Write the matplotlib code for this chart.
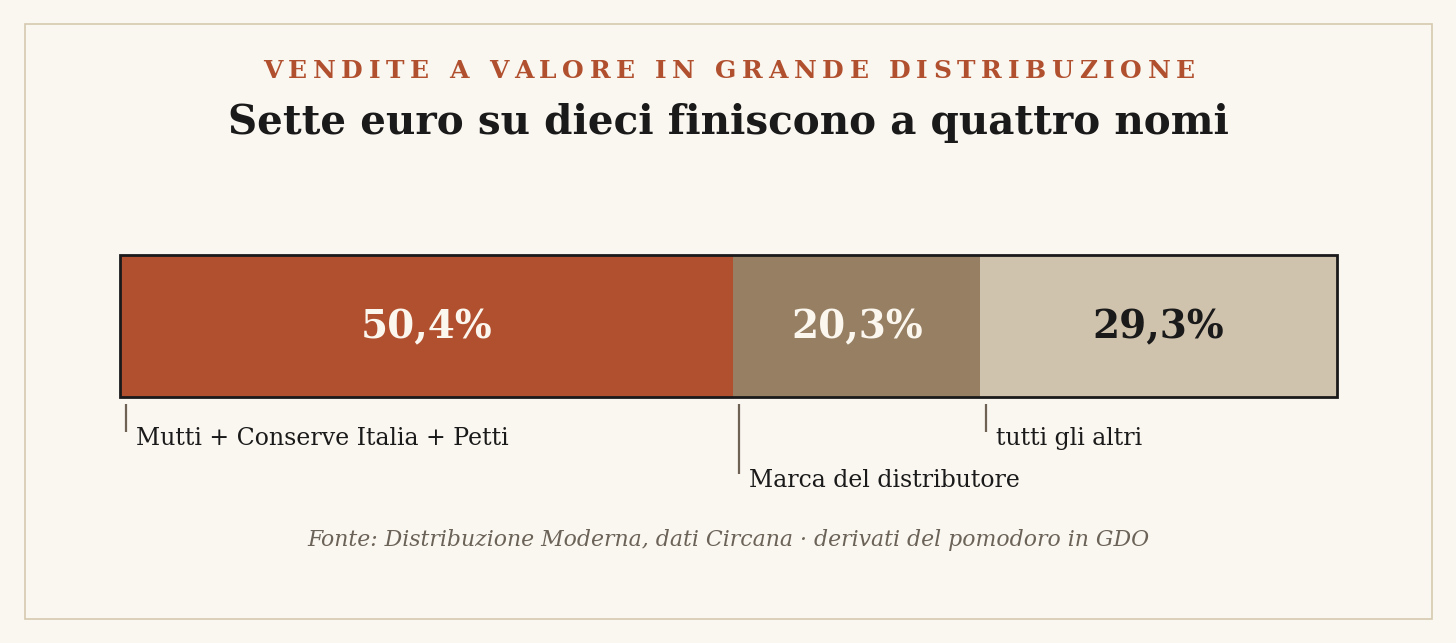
import matplotlib
matplotlib.use("Agg")
import matplotlib.pyplot as plt
from matplotlib.patches import Rectangle
from matplotlib.transforms import blended_transform_factory, ScaledTranslation

# ---- data ----
categories = ["Mutti + Conserve Italia + Petti", "Marca del distributore", "tutti gli altri"]
values = [50.4, 20.3, 29.3]
value_labels = ["50,4%", "20,3%", "29,3%"]
colors = ["#B1502E", "#967F63", "#D0C3AE"]
text_colors = ["#FBF6EE", "#FBF6EE", "#1A1A1A"]
label_rows = [0, 1, 0]

supertitle = "VENDITE A VALORE IN GRANDE DISTRIBUZIONE"
title = "Sette euro su dieci finiscono a quattro nomi"
source = "Fonte: Distribuzione Moderna, dati Circana · derivati del pomodoro in GDO"

W, H, DPI = 1456, 643, 100
BG = "#FAF6F0"
fig = plt.figure(figsize=(W / DPI, H / DPI), dpi=DPI, facecolor=BG)
plt.rcParams["font.family"] = ["DejaVu Serif"]

def fy(py):
    return 1 - py / H

def fx(px):
    return px / W

# outer frame
fig.patches.append(Rectangle((fx(25), fy(619)), fx(1432) - fx(25), fy(24) - fy(619),
                             transform=fig.transFigure, fill=False,
                             edgecolor="#D5CAB0", lw=1.2))

# bar axes
bx0, bx1, by0, by1 = 120, 1337, 255, 397
ax = fig.add_axes([fx(bx0), fy(by1), fx(bx1) - fx(bx0), fy(by0) - fy(by1)])
ax.set_xlim(0, sum(values))
ax.set_ylim(-0.5, 0.5)
ax.axis("off")

bt = blended_transform_factory(ax.transData, fig.transFigure)

left = 0
lefts = []
for v, c, lab, tc in zip(values, colors, value_labels, text_colors):
    ax.barh(0, v, left=left, height=1.0, color=c, edgecolor="none")
    ax.text(left + v / 2, fy(338), lab, transform=bt, ha="center", va="baseline",
            color=tc, fontsize=28, fontweight="bold")
    lefts.append(left)
    left += v

ax.add_patch(Rectangle((0, 0), 1, 1, transform=ax.transAxes, fill=False,
                       edgecolor="#1A1A1A", lw=2.0, clip_on=False, zorder=5))

# tick marks & labels below the bar
tick_off = ScaledTranslation(6 / DPI, 0, fig.dpi_scale_trans)
text_off = ScaledTranslation(16 / DPI, 0, fig.dpi_scale_trans)
for l, cat, row in zip(lefts, categories, label_rows):
    y_end = 432 if row == 0 else 474
    base = 445 if row == 0 else 487
    ax.plot([l, l], [fy(404), fy(y_end)], transform=bt + tick_off,
            color="#6E6254", lw=1.6, clip_on=False, solid_capstyle="butt")
    ax.text(l, fy(base), cat, transform=bt + text_off, ha="left", va="baseline",
            fontsize=17, color="#1A1A1A")

# supertitle with letter spacing
renderer = fig.canvas.get_renderer()
sup_kw = dict(fontsize=18, fontweight="bold", color="#B1502E")
widths = []
for ch in supertitle:
    t = fig.text(0, 0, ch if ch != " " else "\u00a0", **sup_kw)
    widths.append(t.get_window_extent(renderer).width)
    t.remove()
target = 932
track = (target - sum(widths)) / (len(supertitle) - 1)
x = 729 - target / 2
for ch, w in zip(supertitle, widths):
    if ch != " ":
        fig.text(fx(x), fy(78.5), ch, ha="left", va="baseline", **sup_kw)
    x += w + track

fig.text(0.5, fy(134), title, ha="center", va="baseline", fontsize=29.2,
         fontweight="bold", color="#1A1A1A")
fig.text(0.5, fy(546), source, ha="center", va="baseline", fontsize=15.8,
         style="italic", color="#6B6358")

fig.savefig("out.png", dpi=DPI, facecolor=BG)
